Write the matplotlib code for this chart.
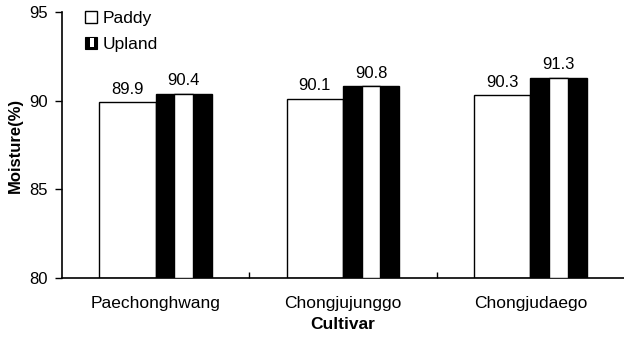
import matplotlib
matplotlib.use("Agg")
import matplotlib.pyplot as plt
import numpy as np
from matplotlib.patches import Rectangle
from matplotlib.legend_handler import HandlerBase

plt.rcParams["font.family"] = ["Liberation Sans", "DejaVu Sans"]

# data
cultivars = ["Paechonghwang", "Chongjujunggo", "Chongjudaego"]
paddy = [89.9, 90.1, 90.3]
upland = [90.4, 90.8, 91.3]
yticks = [80, 85, 90, 95]


class StripeHandler(HandlerBase):
    """black square with a white stripe, like the Upland bars"""
    def create_artists(self, legend, orig_handle, xdescent, ydescent,
                       width, height, fontsize, trans):
        outer = Rectangle((-xdescent, -ydescent), width, height,
                          facecolor="black", edgecolor="black", lw=0.8, transform=trans)
        inner = Rectangle((-xdescent + width * 0.42, -ydescent + height * 0.15),
                          width * 0.33, height * 0.7,
                          facecolor="white", edgecolor="none", transform=trans)
        return [outer, inner]


fig = plt.figure(figsize=(6.24, 3.42), dpi=100)
ax = fig.add_axes([62 / 624, 1 - 278 / 342, 1 - 62 / 624, (278 - 12) / 342])

x = np.arange(len(cultivars))
w = 0.3

p_bars = ax.bar(x - w / 2, [v - 80 for v in paddy], w, bottom=80,
                color="white", edgecolor="black", linewidth=1.0, zorder=2)
u_bars = ax.bar(x + w / 2, [v - 80 for v in upland], w, bottom=80,
                color="black", edgecolor="black", linewidth=1.0, zorder=2)
ax.bar(x + w / 2, [v - 80 for v in upland], w / 3, bottom=80,
       color="white", edgecolor="black", linewidth=1.0, zorder=3)

for xi, v in zip(x - w / 2, paddy):
    ax.annotate(f"{v:.1f}", (xi, v), xytext=(0, 4), textcoords="offset points",
                ha="center", va="bottom", fontsize=12)
for xi, v in zip(x + w / 2, upland):
    ax.annotate(f"{v:.1f}", (xi, v), xytext=(0, 4), textcoords="offset points",
                ha="center", va="bottom", fontsize=12)

ax.set_xlim(-0.5, len(cultivars) - 0.5)
ax.set_ylim(80, 95)
ax.set_yticks(yticks)
ax.set_yticklabels([str(t) for t in yticks], fontsize=12)
ax.set_xticks(x)
ax.set_xticklabels(cultivars, fontsize=12.5)
ax.set_xticks(x[:-1] + 0.5, minor=True)
ax.tick_params(axis="x", which="major", length=0, pad=13)
ax.tick_params(axis="x", which="minor", direction="in", length=4, width=1)
ax.tick_params(axis="y", direction="out", length=5, width=1, pad=5)

for s in ["top", "right"]:
    ax.spines[s].set_visible(False)
for s in ["left", "bottom"]:
    ax.spines[s].set_linewidth(1.2)

ax.set_ylabel("Moisture(%)", fontsize=12, fontweight="bold", labelpad=5)
ax.set_xlabel("Cultivar", fontsize=12.5, fontweight="bold", labelpad=4)

ax.legend([p_bars, u_bars], ["Paddy", "Upland"],
          handler_map={u_bars: StripeHandler()},
          loc="upper left", bbox_to_anchor=(85 / 624, 1 - 11 / 342),
          bbox_transform=fig.transFigure, frameon=False, fontsize=12.5,
          handlelength=0.7, handleheight=0.7, handletextpad=0.3,
          labelspacing=0.6, borderpad=0, borderaxespad=0)

fig.savefig("out.png", dpi=100)
